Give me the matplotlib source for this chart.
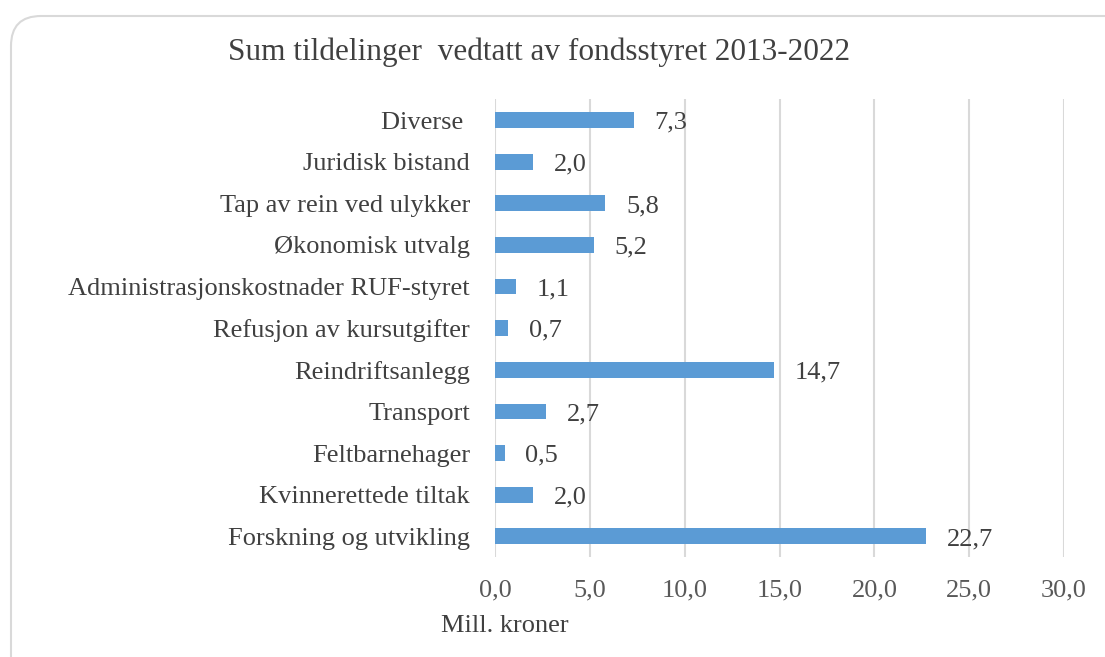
import matplotlib.pyplot as plt
from matplotlib.patches import FancyBboxPatch

categories = ['Diverse ', 'Juridisk bistand', 'Tap av rein ved ulykker', 'Økonomisk utvalg',
              'Administrasjonskostnader RUF-styret', 'Refusjon av kursutgifter',
              'Reindriftsanlegg', 'Transport', 'Feltbarnehager', 'Kvinnerettede tiltak',
              'Forskning og utvikling']
values = [7.3, 2.0, 5.8, 5.2, 1.1, 0.7, 14.7, 2.7, 0.5, 2.0, 22.7]
xticks = [0, 5, 10, 15, 20, 25, 30]

plt.rcParams['font.family'] = ['Liberation Serif', 'DejaVu Serif']

fig = plt.figure(figsize=(11.05, 6.57), dpi=100)

# rounded frame behind the chart
bg = fig.add_axes([0, 0, 1, 1], zorder=-1)
bg.set_xlim(0, 1105)
bg.set_ylim(657, 0)
bg.axis('off')
bg.add_patch(FancyBboxPatch((11, 16), 1130, 700, boxstyle='round,pad=0,rounding_size=30',
                            fc='white', ec='#d9d9d9', lw=1.5))

ax = fig.add_axes([0.448, 0.152, 0.515, 0.697])
ax.patch.set_visible(False)
ypos = list(range(len(categories)))[::-1]
ax.barh(ypos, values, height=0.38, color='#5b9bd5', zorder=3)
for y, v in zip(ypos, values):
    ax.annotate(f'{v:.1f}'.replace('.', ','), (v, y), xytext=(15, -6.3), textcoords='offset points',
                va='baseline', ha='left', fontsize=19, color='#404040')

ax.set_xlim(0, 30)
ax.set_ylim(-0.5, len(categories) - 0.5)
ax.set_xticks(xticks)
ax.set_xticklabels([f'{t:.1f}'.replace('.', ',') for t in xticks], fontsize=19, color='#595959')
ax.set_yticks(ypos)
ax.set_yticklabels(categories, fontsize=19, color='#404040')
ax.tick_params(axis='both', length=0)
ax.tick_params(axis='x', pad=16)
ax.tick_params(axis='y', pad=18)
ax.grid(axis='x', color='#d9d9d9', lw=1.5, zorder=0)
for s in ax.spines.values():
    s.set_visible(False)

fig.text(0.488, 0.921, 'Sum tildelinger  vedtatt av fondsstyret 2013-2022', ha='center', va='center',
         fontsize=22.5, color='#404040')
fig.text(0.399, 0.038, 'Mill. kroner', ha='left', va='baseline', fontsize=19, color='#404040')

fig.savefig('out.png', dpi=100)
